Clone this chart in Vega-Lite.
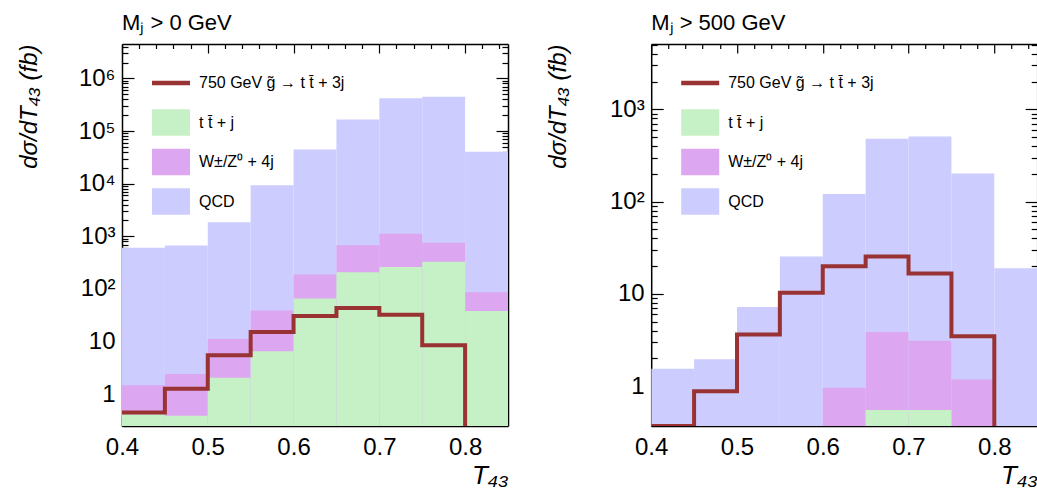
{
  "$schema": "https://vega.github.io/schema/vega-lite/v6.json",
  "padding": {"left": 17, "top": 11, "right": 0, "bottom": 0},
  "background": "white",
  "config": {
    "font": "Liberation Sans",
    "view": {"stroke": null},
    "axis": {"zindex": 1, "grid": false, "domainColor": "black", "domainWidth": 1.5, "tickColor": "black", "tickWidth": 1.2, "labelFont": "Liberation Sans", "labelFontSize": 24, "labelColor": "black", "labelOverlap": false, "labelFlush": false, "labelBound": false, "titleColor": "black", "titleFont": "Liberation Sans"},
    "title": {"font": "Liberation Sans", "fontSize": 22, "fontWeight": "normal", "color": "black", "anchor": "start", "frame": "group", "offset": 8.8},
    "legend": {"labelFont": "Liberation Sans", "labelFontSize": 16, "labelColor": "black"}
  },
  "datasets": {
    "mj0": [
      {"lo": 0.40, "hi": 0.45, "qcd": 605, "wz_top": 1.48, "ttbar": 0.42, "sig": 0.45},
      {"lo": 0.45, "hi": 0.50, "qcd": 670, "wz_top": 2.43, "ttbar": 0.39, "sig": 1.28},
      {"lo": 0.50, "hi": 0.55, "qcd": 1860, "wz_top": 11.2, "ttbar": 2.07, "sig": 5.5},
      {"lo": 0.55, "hi": 0.60, "qcd": 9300, "wz_top": 39, "ttbar": 6.6, "sig": 15.2},
      {"lo": 0.60, "hi": 0.65, "qcd": 44600, "wz_top": 189, "ttbar": 66, "sig": 30.7},
      {"lo": 0.65, "hi": 0.70, "qcd": 165000, "wz_top": 680, "ttbar": 209, "sig": 43.5},
      {"lo": 0.70, "hi": 0.75, "qcd": 418000, "wz_top": 1120, "ttbar": 261, "sig": 32.5},
      {"lo": 0.75, "hi": 0.80, "qcd": 450000, "wz_top": 755, "ttbar": 330, "sig": 8.5},
      {"lo": 0.80, "hi": 0.85, "qcd": 40500, "wz_top": 87, "ttbar": 38, "sig": 0.001}
    ],
    "mj500": [
      {"lo": 0.40, "hi": 0.45, "qcd": 1.54, "wz_top": null, "ttbar": null, "sig": 0.37},
      {"lo": 0.45, "hi": 0.50, "qcd": 1.96, "wz_top": null, "ttbar": null, "sig": 0.88},
      {"lo": 0.50, "hi": 0.55, "qcd": 7.2, "wz_top": null, "ttbar": null, "sig": 3.63},
      {"lo": 0.55, "hi": 0.60, "qcd": 25.4, "wz_top": null, "ttbar": null, "sig": 10.3},
      {"lo": 0.60, "hi": 0.65, "qcd": 121, "wz_top": 0.96, "ttbar": null, "sig": 19.9},
      {"lo": 0.65, "hi": 0.70, "qcd": 479, "wz_top": 3.85, "ttbar": 0.55, "sig": 25.4},
      {"lo": 0.70, "hi": 0.75, "qcd": 507, "wz_top": 3.1, "ttbar": 0.55, "sig": 16.6},
      {"lo": 0.75, "hi": 0.80, "qcd": 201, "wz_top": 1.18, "ttbar": null, "sig": 3.48},
      {"lo": 0.80, "hi": 0.85, "qcd": 19, "wz_top": null, "ttbar": null, "sig": 0.001}
    ]
  },
  "resolve": {"scale": {"x": "independent", "y": "independent", "color": "independent"}, "legend": {"color": "independent"}},
  "spacing": 37.2,
  "hconcat": [
    {
      "width": 386, "height": 382,
      "title": {"text": "Mⱼ > 0 GeV"},
      "data": {"name": "mj0"},
      "resolve": {"axis": {"x": "independent", "y": "independent"}},
      "layer": [
        {
          "mark": {"type": "rect", "clip": true},
          "encoding": {
            "x": {"field": "lo", "type": "quantitative", "scale": {"domain": [0.4, 0.85], "nice": false, "zero": false},
              "axis": {"orient": "bottom", "domain": true, "ticks": false, "tickSize": 0, "values": [0.4, 0.5, 0.6, 0.7, 0.8],
                "format": ".1f", "labelPadding": 9,
                "title": "T₄₃", "titleFontSize": 26, "titleFontStyle": "italic", "titleFontWeight": "normal", "titleX": 386, "titleY": 57, "titleAlign": "right", "titleBaseline": "alphabetic"}},
            "x2": {"field": "hi"},
            "y": {"field": "qcd", "type": "quantitative", "scale": {"type": "log", "domain": [0.25, 4500000], "nice": false},
              "axis": {"orient": "left", "domain": true, "ticks": false, "tickSize": 0, "values": [1, 10, 100, 1000, 10000, 100000, 1000000],
                "labelExpr": "datum.value<5 ? '1' : datum.value<50 ? '10' : '10'+['','','²','³','⁴','⁵','⁶','⁷'][round(log(datum.value)/LN10)]",
                "labelPadding": 7,
                "title": "dσ/dT₄₃ (fb)", "titleFontSize": 24, "titleFontStyle": "italic", "titleFontWeight": "normal", "titleX": -93, "titleY": 0, "titleAlign": "right", "titleAngle": 270, "titleBaseline": "middle"}},
            "y2": {"datum": 0.001},
            "color": {"datum": "QCD", "type": "nominal",
              "scale": {"domain": ["750 GeV g̃ → t t̄ + 3j", "t t̄ + j", "W±/Z⁰ + 4j", "QCD"], "range": ["#993333", "#c6f0c6", "#dca6f0", "#ccccff"]},
              "legend": {"orient": "none", "legendX": 30, "legendY": 20, "padding": 0, "title": null, "symbolType": "M-1,-0.7H1V0.7H-1Z", "symbolSize": 1444, "labelFontSize": 16, "labelOffset": 9, "rowPadding": 6.5,
                "encode": {"symbols": {"update": {
                  "shape": {"signal": "datum.index===0 ? 'M-1,-0.7L1,-0.7M-1,0.7L1,0.7M-1,-0.12H1V0.12H-1Z' : 'M-1,-0.7H1V0.7H-1Z'"},
                  "fill": {"signal": "datum.index===0 ? '#993333' : datum.index===3 ? '#ccccff' : datum.index===2 ? '#dca6f0' : '#c6f0c6'"},
                  "stroke": {"value": "transparent"},
                  "strokeWidth": {"value": 0},
                  "opacity": {"value": 1}, "fillOpacity": {"value": 1}, "strokeOpacity": {"value": 0}}}}}}
          }
        },
        {
          "mark": {"type": "rect", "clip": true},
          "encoding": {
            "x": {"field": "lo", "type": "quantitative",
              "axis": {"orient": "top", "offset": -382, "domain": false, "labels": false, "ticks": true, "tickColor": "black", "title": null, "values": [0.4,0.42,0.44,0.46,0.48,0.5,0.52,0.54,0.56,0.58,0.6,0.62,0.64,0.66,0.68,0.7,0.72,0.74,0.76,0.78,0.8,0.82,0.84],
                "tickSize": {"condition": {"test": "abs(datum.value*10-round(datum.value*10))<0.001", "value": 9}, "value": 4.5}}},
            "x2": {"field": "hi"},
            "y": {"field": "wz_top", "type": "quantitative",
              "axis": {"orient": "right", "offset": -386, "domain": false, "labels": false, "ticks": true, "tickColor": "black", "title": null, "values": [0.3,0.4,0.5,0.6,0.7,0.8,0.9,1,2,3,4,5,6,7,8,9,10,20,30,40,50,60,70,80,90,100,200,300,400,500,600,700,800,900,1000,2000,3000,4000,5000,6000,7000,8000,9000,10000,20000,30000,40000,50000,60000,70000,80000,90000,100000,200000,300000,400000,500000,600000,700000,800000,900000,1000000,2000000,3000000,4000000],
                "tickSize": {"condition": {"test": "abs(log(datum.value)/LN10-round(log(datum.value)/LN10))<0.001", "value": 12}, "value": 6}}},
            "y2": {"datum": 0.001},
            "color": {"datum": "W±/Z⁰ + 4j", "type": "nominal"}
          }
        },
        {
          "mark": {"type": "rect", "clip": true},
          "encoding": {
            "x": {"field": "lo", "type": "quantitative",
              "axis": {"orient": "bottom", "offset": -382, "domain": true, "labels": false, "ticks": true, "tickColor": "black", "title": null, "values": [0.4,0.42,0.44,0.46,0.48,0.5,0.52,0.54,0.56,0.58,0.6,0.62,0.64,0.66,0.68,0.7,0.72,0.74,0.76,0.78,0.8,0.82,0.84],
                "tickSize": {"condition": {"test": "abs(datum.value*10-round(datum.value*10))<0.001", "value": 9}, "value": 4.5}}},
            "x2": {"field": "hi"},
            "y": {"field": "ttbar", "type": "quantitative",
              "axis": {"orient": "left", "offset": -386, "domain": true, "labels": false, "ticks": true, "tickColor": "black", "title": null, "values": [0.3,0.4,0.5,0.6,0.7,0.8,0.9,1,2,3,4,5,6,7,8,9,10,20,30,40,50,60,70,80,90,100,200,300,400,500,600,700,800,900,1000,2000,3000,4000,5000,6000,7000,8000,9000,10000,20000,30000,40000,50000,60000,70000,80000,90000,100000,200000,300000,400000,500000,600000,700000,800000,900000,1000000,2000000,3000000,4000000],
                "tickSize": {"condition": {"test": "abs(log(datum.value)/LN10-round(log(datum.value)/LN10))<0.001", "value": 12}, "value": 6}}},
            "y2": {"datum": 0.001},
            "color": {"datum": "t t̄ + j", "type": "nominal"}
          }
        },
        {
          "mark": {"type": "line", "interpolate": "step-after", "clip": true, "strokeWidth": 4},
          "encoding": {
            "x": {"field": "lo", "type": "quantitative", "axis": null},
            "y": {"field": "sig", "type": "quantitative", "axis": null},
            "color": {"datum": "750 GeV g̃ → t t̄ + 3j", "type": "nominal"}
          }
        }
      ]
    },
    {
      "width": 386, "height": 382,
      "title": {"text": "Mⱼ > 500 GeV"},
      "data": {"name": "mj500"},
      "resolve": {"axis": {"x": "independent", "y": "independent"}},
      "layer": [
        {
          "mark": {"type": "rect", "clip": true},
          "encoding": {
            "x": {"field": "lo", "type": "quantitative", "scale": {"domain": [0.4, 0.85], "nice": false, "zero": false},
              "axis": {"orient": "bottom", "domain": true, "ticks": false, "tickSize": 0, "values": [0.4, 0.5, 0.6, 0.7, 0.8],
                "format": ".1f", "labelPadding": 9,
                "title": "T₄₃", "titleFontSize": 26, "titleFontStyle": "italic", "titleFontWeight": "normal", "titleX": 386, "titleY": 57, "titleAlign": "right", "titleBaseline": "alphabetic"}},
            "x2": {"field": "hi"},
            "y": {"field": "qcd", "type": "quantitative", "scale": {"type": "log", "domain": [0.37, 5100], "nice": false},
              "axis": {"orient": "left", "domain": true, "ticks": false, "tickSize": 0, "values": [1, 10, 100, 1000],
                "labelExpr": "datum.value<5 ? '1' : datum.value<50 ? '10' : '10'+['','','²','³','⁴','⁵','⁶','⁷'][round(log(datum.value)/LN10)]",
                "labelPadding": 7,
                "title": "dσ/dT₄₃ (fb)", "titleFontSize": 24, "titleFontStyle": "italic", "titleFontWeight": "normal", "titleX": -93, "titleY": 0, "titleAlign": "right", "titleAngle": 270, "titleBaseline": "middle"}},
            "y2": {"datum": 0.001},
            "color": {"datum": "QCD", "type": "nominal",
              "scale": {"domain": ["750 GeV g̃ → t t̄ + 3j", "t t̄ + j", "W±/Z⁰ + 4j", "QCD"], "range": ["#993333", "#c6f0c6", "#dca6f0", "#ccccff"]},
              "legend": {"orient": "none", "legendX": 30, "legendY": 20, "padding": 0, "title": null, "symbolType": "M-1,-0.7H1V0.7H-1Z", "symbolSize": 1444, "labelFontSize": 16, "labelOffset": 9, "rowPadding": 6.5,
                "encode": {"symbols": {"update": {
                  "shape": {"signal": "datum.index===0 ? 'M-1,-0.7L1,-0.7M-1,0.7L1,0.7M-1,-0.12H1V0.12H-1Z' : 'M-1,-0.7H1V0.7H-1Z'"},
                  "fill": {"signal": "datum.index===0 ? '#993333' : datum.index===3 ? '#ccccff' : datum.index===2 ? '#dca6f0' : '#c6f0c6'"},
                  "stroke": {"value": "transparent"},
                  "strokeWidth": {"value": 0},
                  "opacity": {"value": 1}, "fillOpacity": {"value": 1}, "strokeOpacity": {"value": 0}}}}}}
          }
        },
        {
          "mark": {"type": "rect", "clip": true},
          "encoding": {
            "x": {"field": "lo", "type": "quantitative",
              "axis": {"orient": "top", "offset": -382, "domain": false, "labels": false, "ticks": true, "tickColor": "black", "title": null, "values": [0.4,0.42,0.44,0.46,0.48,0.5,0.52,0.54,0.56,0.58,0.6,0.62,0.64,0.66,0.68,0.7,0.72,0.74,0.76,0.78,0.8,0.82,0.84],
                "tickSize": {"condition": {"test": "abs(datum.value*10-round(datum.value*10))<0.001", "value": 9}, "value": 4.5}}},
            "x2": {"field": "hi"},
            "y": {"field": "wz_top", "type": "quantitative",
              "axis": {"orient": "right", "offset": -386, "domain": false, "labels": false, "ticks": true, "tickColor": "black", "title": null, "values": [0.4,0.5,0.6,0.7,0.8,0.9,1,2,3,4,5,6,7,8,9,10,20,30,40,50,60,70,80,90,100,200,300,400,500,600,700,800,900,1000,2000,3000,4000,5000],
                "tickSize": {"condition": {"test": "abs(log(datum.value)/LN10-round(log(datum.value)/LN10))<0.001", "value": 12}, "value": 6}}},
            "y2": {"datum": 0.001},
            "color": {"datum": "W±/Z⁰ + 4j", "type": "nominal"}
          }
        },
        {
          "mark": {"type": "rect", "clip": true},
          "encoding": {
            "x": {"field": "lo", "type": "quantitative",
              "axis": {"orient": "bottom", "offset": -382, "domain": true, "labels": false, "ticks": true, "tickColor": "black", "title": null, "values": [0.4,0.42,0.44,0.46,0.48,0.5,0.52,0.54,0.56,0.58,0.6,0.62,0.64,0.66,0.68,0.7,0.72,0.74,0.76,0.78,0.8,0.82,0.84],
                "tickSize": {"condition": {"test": "abs(datum.value*10-round(datum.value*10))<0.001", "value": 9}, "value": 4.5}}},
            "x2": {"field": "hi"},
            "y": {"field": "ttbar", "type": "quantitative",
              "axis": {"orient": "left", "offset": -386, "domain": true, "labels": false, "ticks": true, "tickColor": "black", "title": null, "values": [0.4,0.5,0.6,0.7,0.8,0.9,1,2,3,4,5,6,7,8,9,10,20,30,40,50,60,70,80,90,100,200,300,400,500,600,700,800,900,1000,2000,3000,4000,5000],
                "tickSize": {"condition": {"test": "abs(log(datum.value)/LN10-round(log(datum.value)/LN10))<0.001", "value": 12}, "value": 6}}},
            "y2": {"datum": 0.001},
            "color": {"datum": "t t̄ + j", "type": "nominal"}
          }
        },
        {
          "mark": {"type": "line", "interpolate": "step-after", "clip": true, "strokeWidth": 4},
          "encoding": {
            "x": {"field": "lo", "type": "quantitative", "axis": null},
            "y": {"field": "sig", "type": "quantitative", "axis": null},
            "color": {"datum": "750 GeV g̃ → t t̄ + 3j", "type": "nominal"}
          }
        }
      ]
    }
  ]
}
